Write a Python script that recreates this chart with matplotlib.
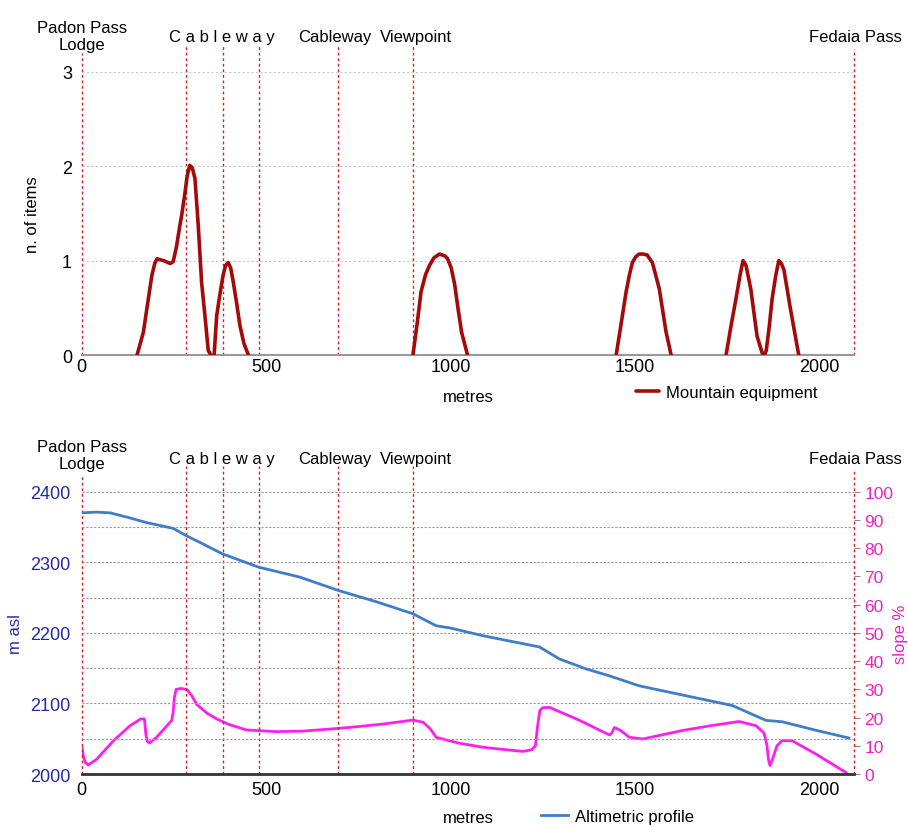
import numpy as np
import matplotlib
matplotlib.use("Agg")
import matplotlib.pyplot as plt
from matplotlib import font_manager
from matplotlib.ticker import MultipleLocator

# --- font: narrow arial-like if there is one
names = set(f.name for f in font_manager.fontManager.ttflist)
fam = ['Liberation Sans Narrow', 'Liberation Sans', 'DejaVu Sans']
fam = [f for f in fam if f in names] + ['DejaVu Sans']
plt.rcParams['font.family'] = fam
plt.rcParams['font.size'] = 12

nan = np.nan

# ---------------- data ----------------
x_max = 2095
poi_x = [0, 283, 382, 482, 696, 899, 2095]     # red dotted markers
poi_labels = [("Padon Pass\nLodge", 0), ("C a b l e w a y", 380), ("Cableway", 686),
              ("Viewpoint", 906), ("Fedaia Pass", 2099)]

equip_x = [150, 167, 190, 198, 204, 222, 240, 248, 257, 266, 271, 280, 286, 293, 300, 307, 316, 325, 334, 343, 350, nan,
           359, 366, 375, 383, 390, 397, 404, 411, 420, 429, 440, 452, nan,
           898, 910, 920, 932, 943, 955, 970, 985, 992, 1002, 1011, 1020, 1030, 1046, nan,
           1449, 1462, 1476, 1485, 1493, 1502, 1511, 1522, 1533, 1547, 1556, 1566, 1584, 1598, nan,
           1747, 1760, 1774, 1785, 1793, 1801, 1814, 1831, 1845, 1851, 1856, 1864, 1872, 1882, 1890, 1897, 1904, 1921, 1944]
equip_y = [0, 0.24, 0.84, 0.97, 1.02, 1.0, 0.97, 0.99, 1.15, 1.37, 1.48, 1.72, 1.9, 2.01, 1.98, 1.87, 1.37, 0.77, 0.42, 0.05, 0, nan,
           0, 0.42, 0.65, 0.84, 0.95, 0.98, 0.92, 0.77, 0.55, 0.31, 0.12, 0, nan,
           0, 0.35, 0.67, 0.85, 0.95, 1.03, 1.07, 1.05, 1.02, 0.92, 0.75, 0.5, 0.24, 0, nan,
           0, 0.32, 0.67, 0.85, 0.98, 1.04, 1.07, 1.07, 1.06, 0.98, 0.85, 0.7, 0.25, 0, nan,
           0, 0.3, 0.6, 0.85, 1.0, 0.95, 0.7, 0.2, 0.02, 0.0, 0.05, 0.3, 0.6, 0.85, 1.0, 0.97, 0.9, 0.5, 0]

alt_x = [0, 40, 77, 122, 177, 248, 282, 321, 381, 480, 591, 696, 799, 898, 961, 998, 1087,
         1241, 1295, 1367, 1431, 1511, 1628, 1764, 1855, 1899, 1990, 2080]
alt_y = [2370, 2371, 2370, 2364, 2356, 2348, 2338, 2328, 2312, 2293, 2279, 2260, 2244, 2227, 2210, 2207, 2196,
         2180, 2163, 2149, 2139, 2125, 2112, 2097, 2076, 2074, 2062, 2051]

slope_x = [0, 5, 10, 18, 41, 86, 131, 160, 170, 174, 178, 184, 203, 244, 248, 251, 256, 270, 285, 298, 312,
           340, 366, 400, 447, 528, 600, 681, 750, 817, 898, 926, 945, 961, 990, 1024, 1087, 1150, 1197,
           1220, 1230, 1236, 1242, 1250, 1268, 1350, 1431, 1437, 1444, 1460, 1485, 1521, 1628, 1700, 1782,
           1828, 1850, 1858, 1862, 1866, 1873, 1885, 1899, 1926, 1990, 2071, 2076]
slope_y = [10, 6, 4, 3.2, 5.3, 11.8, 17.1, 19.5, 19.5, 14, 11.5, 11, 13, 19, 22, 27, 30, 30.3, 29.9, 27.8, 24.6,
           21.5, 19.5, 17.5, 15.6, 15, 15.2, 16, 16.8, 17.7, 19.1, 18.3, 16, 13, 12, 10.9, 9.5, 8.6, 8.0,
           8.6, 10, 17, 22.5, 23.5, 23.6, 19, 13.8, 14.5, 16.5, 15.5, 13, 12.4, 15.4, 17, 18.6,
           17.1, 14.5, 10, 5, 3, 5.3, 10, 11.8, 11.8, 7.1, 0.6, 0]

red = '#d42020'
dark_red = '#a50a0a'
blue_line = '#3f7dc6'
blue_txt = '#2828a8'
mag_line = '#ff1ef0'
mag_txt = '#ee22c0'
fs = 12

fig = plt.figure(figsize=(9.08, 8.28), dpi=100)
ax1 = fig.add_axes([0.090, 0.570, 0.851, 0.342])
ax2 = fig.add_axes([0.090, 0.064, 0.851, 0.341])


def markers(ax, tops):
    for i, x in enumerate(poi_x):
        ax.axvline(x, ymin=0, ymax=tops[i], color=red, lw=1, ls=(0, (2, 2)),
                   clip_on=False, zorder=1)


def labels(ax, ys):
    tr = ax.get_xaxis_transform()
    for (txt, x), y in zip(poi_labels, ys):
        ax.text(x, y, txt, transform=tr, ha='center', va='bottom',
                linespacing=1.15, fontsize=fs)


# ---------------- top: mountain equipment ----------------
ax1.plot(equip_x, equip_y, color=dark_red, lw=2.6, solid_capstyle='round',
         solid_joinstyle='round', zorder=3, label='Mountain equipment')
ax1.set_xlim(0, x_max)
ax1.set_ylim(0, 3)
ax1.set_yticks([0, 1, 2, 3])
ax1.set_xticks([0, 500, 1000, 1500, 2000])
ax1.yaxis.grid(True, color='#c8c8c8', ls=(0, (2, 2)), lw=0.8)
for s in ['top', 'right', 'left']:
    ax1.spines[s].set_visible(False)
ax1.spines['bottom'].set_color('#999999')
ax1.spines['bottom'].set_linewidth(1.5)
ax1.tick_params(length=0, labelsize=13, pad=2)
ax1.tick_params(axis='y', pad=7)
markers(ax1, [1.065, 1.10, 1.10, 1.10, 1.10, 1.10, 1.08])
labels(ax1, [1.07, 1.10, 1.10, 1.10, 1.10])
ax1.set_ylabel('n. of items', fontsize=fs)
ax1.yaxis.set_label_coords(-0.054, 0.5)
ax1.set_xlabel('metres', fontsize=fs, labelpad=10)
ax1.legend(loc='center', bbox_to_anchor=(0.80, 0.525), bbox_transform=fig.transFigure,
           frameon=False, handlelength=1.4, handletextpad=0.4, fontsize=fs)

# ---------------- bottom: profile + slope ----------------
ax3 = ax2.twinx()
ax2.plot(alt_x, alt_y, color=blue_line, lw=2, zorder=3, label='Altimetric profile')
ax3.plot(slope_x, slope_y, color=mag_line, lw=2, zorder=3)
ax2.set_xlim(0, x_max)
ax2.set_ylim(2000, 2400)
ax3.set_ylim(0, 100)
ax2.set_xticks([0, 500, 1000, 1500, 2000])
ax2.yaxis.set_major_locator(MultipleLocator(100))
ax2.yaxis.set_minor_locator(MultipleLocator(50))
ax3.yaxis.set_major_locator(MultipleLocator(10))
ax2.yaxis.grid(True, which='both', color='#999999', ls=(0, (2, 1.5)), lw=0.8)
for a in (ax2, ax3):
    for s in ['top', 'right', 'left']:
        a.spines[s].set_visible(False)
ax3.spines['bottom'].set_visible(False)
ax2.spines['bottom'].set_color('#333333')
ax2.spines['bottom'].set_linewidth(2)
ax2.tick_params(axis='x', length=0, labelsize=13, pad=5)
ax2.tick_params(axis='y', which='both', length=0, labelsize=13, labelcolor=blue_txt, pad=8)
ax3.tick_params(axis='y', length=4, color='#888888', labelsize=12.5, labelcolor=mag_txt, pad=3)
ax2.set_zorder(ax3.get_zorder() + 1)
ax2.patch.set_visible(False)
markers(ax2, [1.057, 1.092, 1.092, 1.092, 1.092, 1.092, 1.08])
labels(ax2, [1.074, 1.092, 1.092, 1.092, 1.092])
ax2.set_ylabel('m asl', color=blue_txt, fontsize=fs)
ax2.yaxis.set_label_coords(-0.076, 0.5)
ax3.set_ylabel('slope %', color=mag_txt, fontsize=fs)
ax3.yaxis.set_label_coords(1.05, 0.5)
ax2.set_xlabel('metres', fontsize=fs, labelpad=9)
ax2.legend(loc='center', bbox_to_anchor=(0.68, 0.013), bbox_transform=fig.transFigure,
           frameon=False, handlelength=1.6, handletextpad=0.4, fontsize=fs)

fig.savefig('out.png', dpi=100, facecolor='white')
